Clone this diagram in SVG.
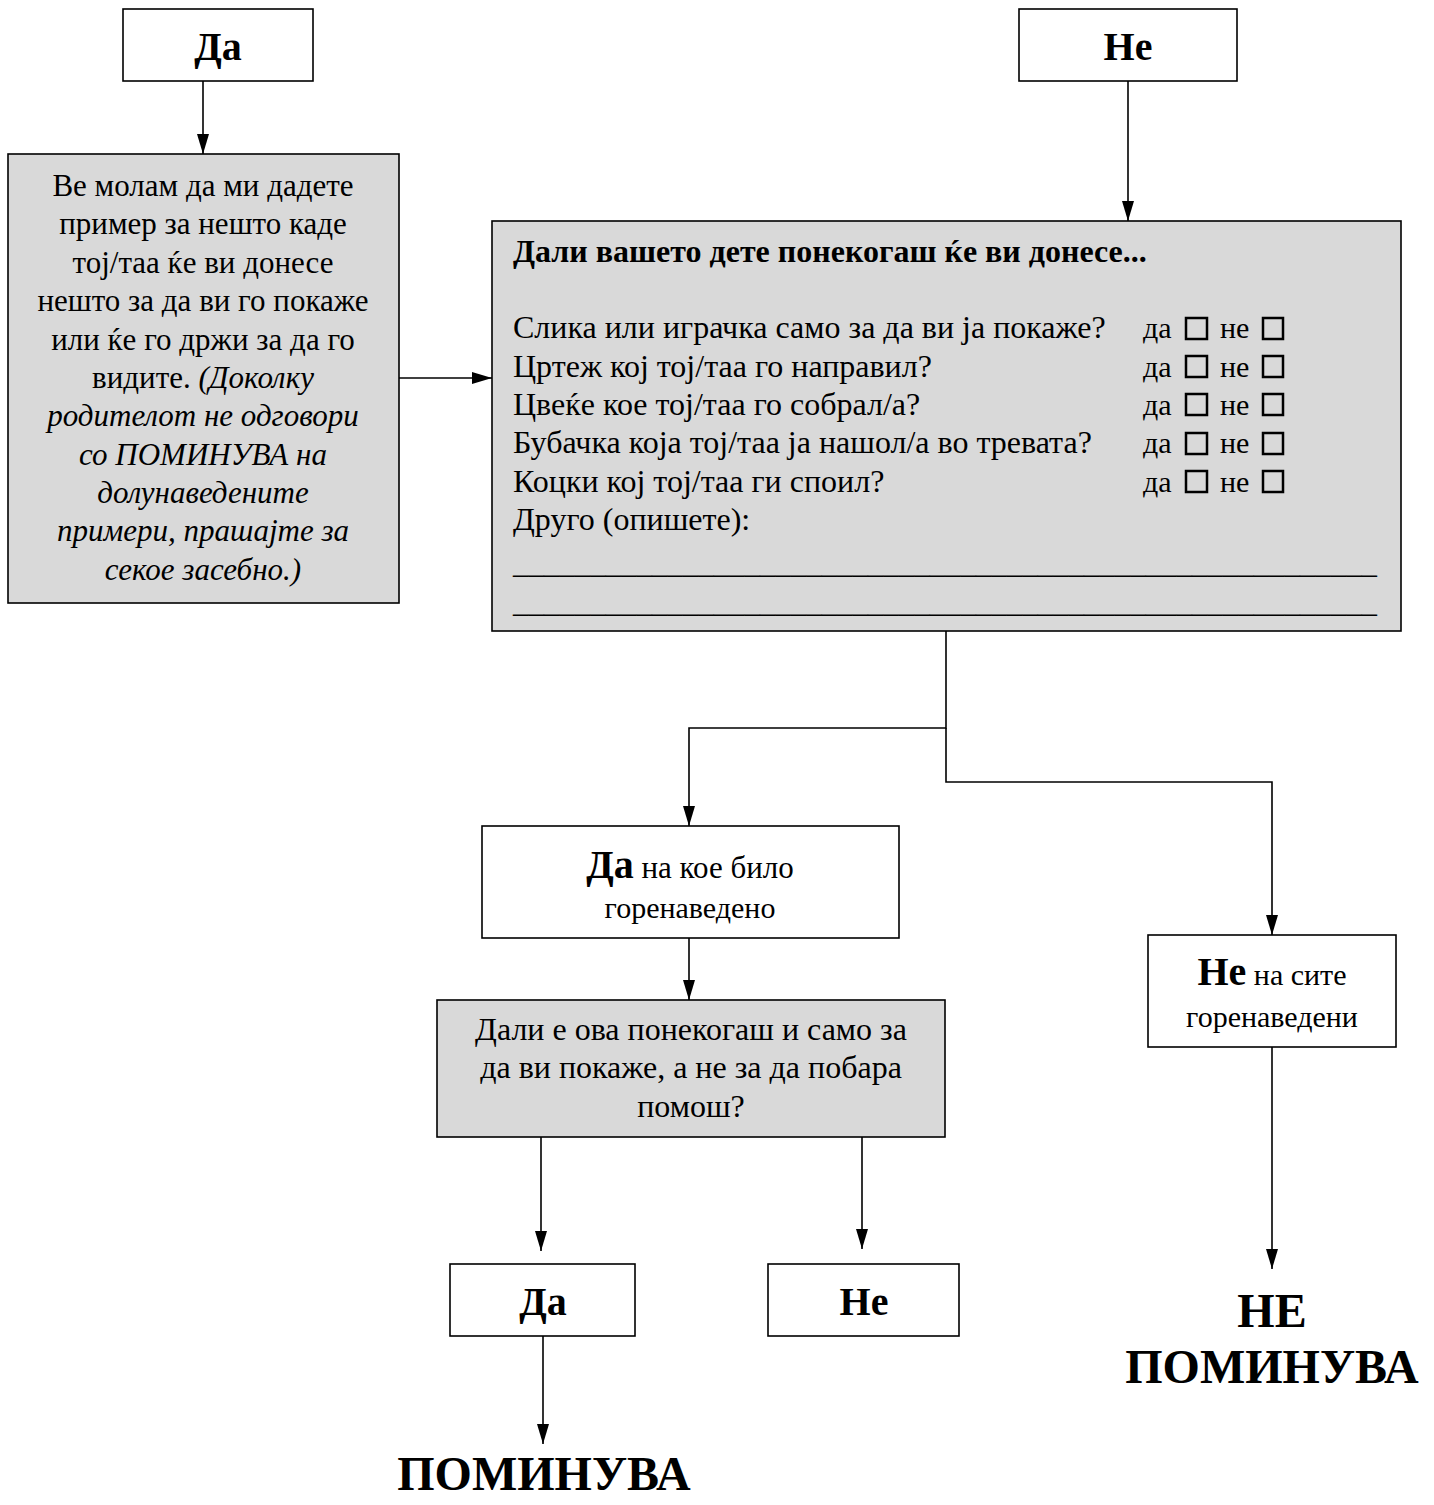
<svg xmlns="http://www.w3.org/2000/svg" width="1434" height="1505" viewBox="0 0 1434 1505">
<style>
  text { font-family: "Liberation Serif", "DejaVu Serif", serif; fill: #000; }
  .box { fill: #fff; stroke: #000; stroke-width: 1.6; }
  .gbox { fill: #d9d9d9; stroke: #000; stroke-width: 1.6; }
  .conn { fill: none; stroke: #000; stroke-width: 1.6; }
  .big { font-size: 40px; font-weight: bold; }
  .huge { font-size: 48px; font-weight: bold; }
  .body { font-size: 30px; }
  .lbody { font-size: 31px; }
  .mbody { font-size: 32px; }
  .c { text-anchor: middle; }
  .it { font-style: italic; }
  .chk { fill: none; stroke: #000; stroke-width: 2.5; }
</style>
<defs>
  <marker id="arr" viewBox="0 0 20 12" refX="20" refY="6" markerWidth="20" markerHeight="12" markerUnits="userSpaceOnUse" orient="auto">
    <path d="M0,0 L20,6 L0,12 Z" fill="#000"/>
  </marker>
</defs>

<g id="connectors">
  <line class="conn" x1="203" y1="81" x2="203" y2="154" marker-end="url(#arr)"/>
  <line class="conn" x1="1128" y1="81" x2="1128" y2="221" marker-end="url(#arr)"/>
  <line class="conn" x1="399" y1="378" x2="492" y2="378" marker-end="url(#arr)"/>
  <polyline class="conn" points="946,631 946,728 689,728 689,826" marker-end="url(#arr)"/>
  <polyline class="conn" points="946,728 946,782 1272,782 1272,935" marker-end="url(#arr)"/>
  <line class="conn" x1="689" y1="938" x2="689" y2="1000" marker-end="url(#arr)"/>
  <line class="conn" x1="541" y1="1137" x2="541" y2="1251" marker-end="url(#arr)"/>
  <line class="conn" x1="862" y1="1137" x2="862" y2="1249" marker-end="url(#arr)"/>
  <line class="conn" x1="1272" y1="1047" x2="1272" y2="1269" marker-end="url(#arr)"/>
  <line class="conn" x1="543" y1="1336" x2="543" y2="1444" marker-end="url(#arr)"/>
</g>

<g id="top-da">
  <rect class="box" x="123" y="9" width="190" height="72"/>
  <text class="big c" x="218" y="60">Да</text>
</g>

<g id="top-ne">
  <rect class="box" x="1019" y="9" width="218" height="72"/>
  <text class="big c" x="1128" y="60">Не</text>
</g>

<g id="example-box">
  <rect class="gbox" x="8" y="154" width="391" height="449"/>
  <text class="lbody c" x="203" y="196">Ве молам да ми дадете</text>
  <text class="lbody c" x="203" y="234">пример за нешто каде</text>
  <text class="lbody c" x="203" y="273">тој/таа ќе ви донесе</text>
  <text class="lbody c" x="203" y="311">нешто за да ви го покаже</text>
  <text class="lbody c" x="203" y="350">или ќе го држи за да го</text>
  <text class="lbody c" x="203" y="388">видите. <tspan class="it">(Доколку</tspan></text>
  <text class="lbody c it" x="203" y="426">родителот не одговори</text>
  <text class="lbody c it" x="203" y="465">со ПОМИНУВА на</text>
  <text class="lbody c it" x="203" y="503">долунаведените</text>
  <text class="lbody c it" x="203" y="541">примери, прашајте за</text>
  <text class="lbody c it" x="203" y="580">секое засебно.)</text>
</g>

<g id="question-box">
  <rect class="gbox" x="492" y="221" width="909" height="410"/>
  <text x="513" y="262" style="font-size:32px;font-weight:bold">Дали вашето дете понекогаш ќе ви донесе...</text>
  <text class="mbody" x="513" y="338">Слика или играчка само за да ви ја покаже?</text>
  <text class="mbody" x="513" y="377">Цртеж кој тој/таа го направил?</text>
  <text class="mbody" x="513" y="415">Цвеќе кое тој/таа го собрал/а?</text>
  <text class="mbody" x="513" y="453">Бубачка која тој/таа ја нашол/а во тревата?</text>
  <text class="mbody" x="513" y="492">Коцки кој тој/таа ги споил?</text>
  <text class="mbody" x="513" y="530">Друго (опишете):</text>
  <text class="mbody" x="513" y="573" textLength="864" lengthAdjust="spacingAndGlyphs">________________________________________________________</text>
  <text class="mbody" x="513" y="612" textLength="864" lengthAdjust="spacingAndGlyphs">________________________________________________________</text>
  <g id="checkboxes">
    <text class="body" x="1143" y="338">да</text><rect class="chk" x="1186" y="318" width="21" height="21"/>
    <text class="body" x="1220" y="338">не</text><rect class="chk" x="1263" y="318" width="20" height="21"/>
    <text class="body" x="1143" y="377">да</text><rect class="chk" x="1186" y="356" width="21" height="21"/>
    <text class="body" x="1220" y="377">не</text><rect class="chk" x="1263" y="356" width="20" height="21"/>
    <text class="body" x="1143" y="415">да</text><rect class="chk" x="1186" y="394" width="21" height="21"/>
    <text class="body" x="1220" y="415">не</text><rect class="chk" x="1263" y="394" width="20" height="21"/>
    <text class="body" x="1143" y="453">да</text><rect class="chk" x="1186" y="433" width="21" height="21"/>
    <text class="body" x="1220" y="453">не</text><rect class="chk" x="1263" y="433" width="20" height="21"/>
    <text class="body" x="1143" y="492">да</text><rect class="chk" x="1186" y="471" width="21" height="21"/>
    <text class="body" x="1220" y="492">не</text><rect class="chk" x="1263" y="471" width="20" height="21"/>
  </g>
</g>

<g id="yes-any">
  <rect class="box" x="482" y="826" width="417" height="112"/>
  <text class="c" x="690" y="878"><tspan style="font-size:40px;font-weight:bold">Да</tspan><tspan style="font-size:31px"> на кое било</tspan></text>
  <text class="body c" x="690" y="918">горенаведено</text>
</g>

<g id="show-only-box">
  <rect class="gbox" x="437" y="1000" width="508" height="137"/>
  <text class="mbody c" x="691" y="1040">Дали е ова понекогаш и само за</text>
  <text class="mbody c" x="691" y="1078">да ви покаже, а не за да побара</text>
  <text class="mbody c" x="691" y="1117">помош?</text>
</g>

<g id="no-all">
  <rect class="box" x="1148" y="935" width="248" height="112"/>
  <text class="c" x="1272" y="985"><tspan style="font-size:40px;font-weight:bold">Не</tspan><tspan style="font-size:30px"> на сите</tspan></text>
  <text class="body c" x="1272" y="1027">горенаведени</text>
</g>

<g id="bottom-da">
  <rect class="box" x="450" y="1264" width="185" height="72"/>
  <text class="big c" x="543" y="1315">Да</text>
</g>

<g id="bottom-ne">
  <rect class="box" x="768" y="1264" width="191" height="72"/>
  <text class="big c" x="864" y="1315">Не</text>
</g>

<g id="result-pominuva">
  <text class="huge c" x="544" y="1490">ПОМИНУВА</text>
</g>

<g id="result-ne-pominuva">
  <text class="huge c" x="1272" y="1327">НЕ</text>
  <text class="huge c" x="1272" y="1383">ПОМИНУВА</text>
</g>
</svg>
